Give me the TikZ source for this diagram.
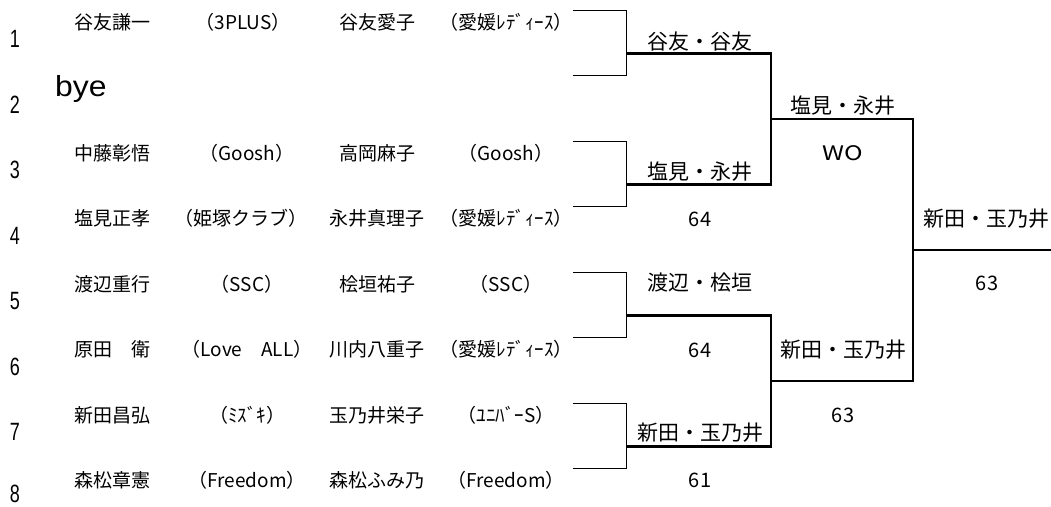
\documentclass[tikz,border=0pt]{standalone}
\usepackage{fontspec}
\usepackage{tikz}
\newfontfamily\jpfont{Noto Sans CJK JP}
\newfontfamily\arialfont{Liberation Sans}

\begin{document}
\begin{tikzpicture}[
		x=1pt, y=-1pt,
		every node/.style={inner sep=0pt},
		player/.style={font=\jpfont\fontsize{19}{19}\selectfont},
		club/.style={font=\jpfont\fontsize{19}{19}\selectfont},
		seed/.style={font=\arialfont\fontsize{25}{25}\selectfont, xscale=0.72},
		winner/.style={font=\jpfont\fontsize{21}{21}\selectfont},
		score/.style={font=\jpfont\fontsize{20}{20}\selectfont},
		thin_line/.style={line width=0.9pt},
		thick_line/.style={line width=2.2pt}
	]
  \useasboundingbox (0, 0) rectangle (1051, 506);
  % seed numbers
  \node (seed_1) [seed] at (15, 39) {1};
  \node (seed_2) [seed] at (15, 104.5) {2};
  \node (seed_3) [seed] at (15, 170) {3};
  \node (seed_4) [seed] at (15, 235.5) {4};
  \node (seed_5) [seed] at (15, 301) {5};
  \node (seed_6) [seed] at (15, 366.5) {6};
  \node (seed_7) [seed] at (15, 432) {7};
  \node (seed_8) [seed] at (15, 494) {8};
  % pairs
  \node (m_1) [player] at (112, 22) {谷友謙一};
  \node (mc_1) [club] at (243, 22) {（3PLUS）};
  \node (w_1) [player] at (377, 22) {谷友愛子};
  \node (wc_1) [club] at (506, 22) {（愛媛ﾚﾃﾞｨｰｽ）};
  \node (bye) [anchor=base west, xscale=1.1, font=\arialfont\fontsize{29}{29}\selectfont] at (55, 96) {bye};
  \node (m_3) [player] at (112, 153) {中藤彰悟};
  \node (mc_3) [club] at (247, 153) {（Goosh）};
  \node (w_3) [player] at (377, 153) {高岡麻子};
  \node (wc_3) [club] at (506, 153) {（Goosh）};
  \node (m_4) [player] at (112, 218.5) {塩見正孝};
  \node (mc_4) [club] at (241, 218.5) {（姫塚クラブ）};
  \node (w_4) [player] at (377, 218.5) {永井真理子};
  \node (wc_4) [club] at (506, 218.5) {（愛媛ﾚﾃﾞｨｰｽ）};
  \node (m_5) [player] at (112, 284) {渡辺重行};
  \node (mc_5) [club] at (247, 284) {（SSC）};
  \node (w_5) [player] at (377, 284) {桧垣祐子};
  \node (wc_5) [club] at (506, 284) {（SSC）};
  \node (m_6) [player] at (112, 349.5) {原田　衛};
  \node (mc_6) [club] at (247, 349.5) {（Love　ALL）};
  \node (w_6) [player] at (377, 349.5) {川内八重子};
  \node (wc_6) [club] at (506, 349.5) {（愛媛ﾚﾃﾞｨｰｽ）};
  \node (m_7) [player] at (112, 415) {新田昌弘};
  \node (mc_7) [club] at (247, 415) {（ﾐｽﾞｷ）};
  \node (w_7) [player] at (377, 415) {玉乃井栄子};
  \node (wc_7) [club] at (506, 415) {（ﾕﾆﾊﾞｰS）};
  \node (m_8) [player] at (112, 480.5) {森松章憲};
  \node (mc_8) [club] at (247, 480.5) {（Freedom）};
  \node (w_8) [player] at (377, 480.5) {森松ふみ乃};
  \node (wc_8) [club] at (506, 480.5) {（Freedom）};
  % bracket points
  \coordinate (e_1) at (573, 10);
  \coordinate (e_2) at (573, 75.5);
  \coordinate (e_3) at (573, 141);
  \coordinate (e_4) at (573, 206.5);
  \coordinate (e_5) at (573, 272);
  \coordinate (e_6) at (573, 337.5);
  \coordinate (e_7) at (573, 403);
  \coordinate (e_8) at (573, 468.5);
  \coordinate (q_1) at (626, 53.5);
  \coordinate (q_2) at (626, 184.5);
  \coordinate (q_3) at (626, 315.5);
  \coordinate (q_4) at (626, 446.5);
  \coordinate (s_1) at (771, 119);
  \coordinate (s_2) at (771, 381);
  \coordinate (f) at (913, 250);
  \coordinate (out) at (1051, 250);
  \draw[thin_line] (e_1) -| (q_1) |- (e_2);
  \draw[thin_line] (e_3) -| (q_2) |- (e_4);
  \draw[thin_line] (e_5) -| (q_3) |- (e_6);
  \draw[thin_line] (e_7) -| (q_4) |- (e_8);
  \draw[thick_line] (q_1) -| (s_1) |- (q_2);
  \draw[thick_line] (q_3) -| (s_2) |- (q_4);
  \draw[thick_line] (s_1) -| (f) |- (s_2);
  \draw[thick_line] (f) -- (out);
  % results
  \node (win_1) [winner] at (700, 42) {谷友・谷友};
  \node (win_2) [winner] at (700, 172) {塩見・永井};
  \node (sc_2) [score] at (700, 219) {64};
  \node (win_3) [winner] at (700, 283) {渡辺・桧垣};
  \node (sc_3) [score] at (700, 350) {64};
  \node (win_4) [winner] at (700, 433) {新田・玉乃井};
  \node (sc_4) [score] at (700, 480) {61};
  \node (semi_1) [winner] at (843, 106) {塩見・永井};
  \node (sc_s1) [score, xscale=1.25] at (843, 153) {WO};
  \node (semi_2) [winner] at (843, 350) {新田・玉乃井};
  \node (sc_s2) [score] at (843, 415) {63};
  \node (champ) [winner, anchor=west] at (923, 219) {新田・玉乃井};
  \node (sc_f) [score] at (987, 283) {63};
\end{tikzpicture}
\end{document}
